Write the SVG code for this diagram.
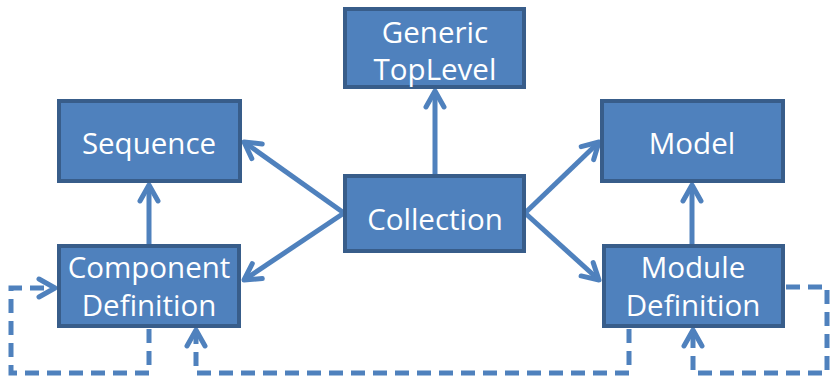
<svg xmlns="http://www.w3.org/2000/svg" width="831" height="377" viewBox="0 0 831 377">
<defs>
<marker id="ah" viewBox="0 0 24 24" refX="20" refY="12" markerWidth="24" markerHeight="24" markerUnits="userSpaceOnUse" orient="auto">
<path d="M4,3 L20,12 L4,21" fill="none" stroke="#4F81BD" stroke-width="5" stroke-linecap="round" stroke-linejoin="round"/>
</marker>
</defs>
<style>
.box{fill:#4F81BD;stroke:#385D8A;stroke-width:4}
.t{fill:#fff;font-family:"Open Sans","Liberation Sans",sans-serif;font-size:29.5px;text-anchor:middle}
.c{fill:none;stroke:#4F81BD;stroke-width:5;marker-end:url(#ah)}
.d{fill:none;stroke:#4F81BD;stroke-width:5;stroke-dasharray:14 8;marker-end:url(#ah)}
</style>
<rect width="831" height="377" fill="#fff"/>
<g id="connectors">
<line class="c" x1="435" y1="175" x2="435" y2="91"/>
<line class="c" x1="344" y1="213" x2="244" y2="142"/>
<line class="c" x1="344" y1="213" x2="244" y2="280"/>
<line class="c" x1="525" y1="213" x2="599" y2="142"/>
<line class="c" x1="525" y1="213" x2="599" y2="280"/>
<line class="c" x1="149" y1="245" x2="149" y2="185"/>
<line class="c" x1="692" y1="245" x2="692" y2="185"/>
<polyline class="d" points="149,329 149,373 11,373 11,288 55,288"/>
<polyline class="d" points="629,329 629,373 196,373 196,330"/>
<polyline class="d" points="786,287 827,287 827,373 693,373 693,330"/>
</g>
<g id="generic"><rect class="box" x="345" y="9" width="179" height="78"/><text class="t" x="435" y="43">Generic</text><text class="t" x="435" y="80">TopLevel</text></g>
<g id="sequence"><rect class="box" x="59" y="101" width="181" height="80"/><text class="t" x="149" y="154">Sequence</text></g>
<g id="collection"><rect class="box" x="345" y="176" width="179" height="75"/><text class="t" x="435" y="230">Collection</text></g>
<g id="model"><rect class="box" x="602" y="101" width="181" height="80"/><text class="t" x="692" y="154">Model</text></g>
<g id="component"><rect class="box" x="59" y="246" width="180" height="80"/><text class="t" x="149" y="278">Component</text><text class="t" x="149" y="316">Definition</text></g>
<g id="module"><rect class="box" x="604" y="246" width="179" height="80"/><text class="t" x="693" y="278">Module</text><text class="t" x="693" y="316">Definition</text></g>
</svg>
